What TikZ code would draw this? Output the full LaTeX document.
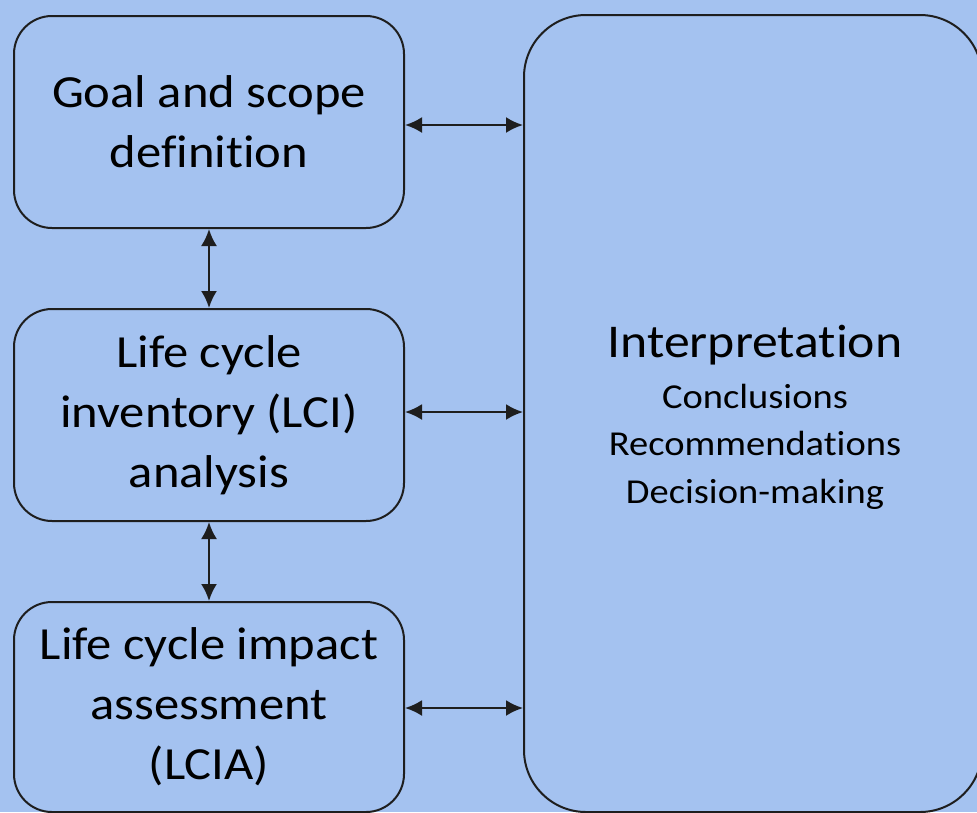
\documentclass[tikz,border=0pt]{standalone}
\usepackage{fontspec}
\setmainfont[FakeStretch=1.1,Ligatures=NoCommon]{Carlito}
\usetikzlibrary{arrows.meta,calc}
\definecolor{bgblue}{RGB}{164,194,240}
\definecolor{edge}{RGB}{30,30,30}
\tikzset{
  stage/.style={draw=edge, line width=2pt, fill=bgblue, rounded corners=38pt,
    minimum width=390pt, inner sep=0pt, align=center,
    font=\fontsize{46}{60}\selectfont, text=black},
  link/.style={line width=2.2pt, draw=edge, {Latex[length=17pt,width=16pt]}-{Latex[length=17pt,width=16pt]}}
}
\begin{document}
\begin{tikzpicture}[x=1pt,y=-1pt]
  \useasboundingbox (0,0) rectangle (977,812);
  \clip (0,0) rectangle (977,812);
  \fill[bgblue] (0,0) rectangle (977,812);

  % the three phases on the left
  \node[stage, minimum height=212pt] (goal) at (209,122) {Goal and scope\\definition};
  \node[stage, minimum height=212pt] (lci) at (209,415) {Life cycle\\inventory (LCI)\\analysis};
  \node[stage, minimum height=210pt] (lcia) at (209,707) {Life cycle impact\\assessment\\(LCIA)};

  % interpretation phase on the right
  \node[draw=edge, line width=2pt, fill=bgblue, rounded corners=62pt,
        minimum width=458pt, minimum height=797pt, inner sep=0pt] (interp) at (753,413.5) {};
  \node[font=\fontsize{47}{50}\selectfont, anchor=base] (title) at (755,357) {Interpretation};
  \node[font=\fontsize{35}{47.5}\selectfont, align=center, anchor=base] (items) at (755,503)
    {Conclusions\\Recommendations\\Decision-making};

  % attachment points on the interpretation box
  \coordinate (g) at ($(goal.east)+(0,3)$);
  \coordinate (l) at ($(lci.east)+(0,-3)$);
  \coordinate (a) at ($(lcia.east)+(0,1)$);

  % two-way links
  \draw[link] (goal.south) -- (lci.north);
  \draw[link] (lci.south) -- (lcia.north);
  \draw[link] (g) -- (g -| interp.west);
  \draw[link] (l) -- (l -| interp.west);
  \draw[link] (a) -- (a -| interp.west);
\end{tikzpicture}
\end{document}
